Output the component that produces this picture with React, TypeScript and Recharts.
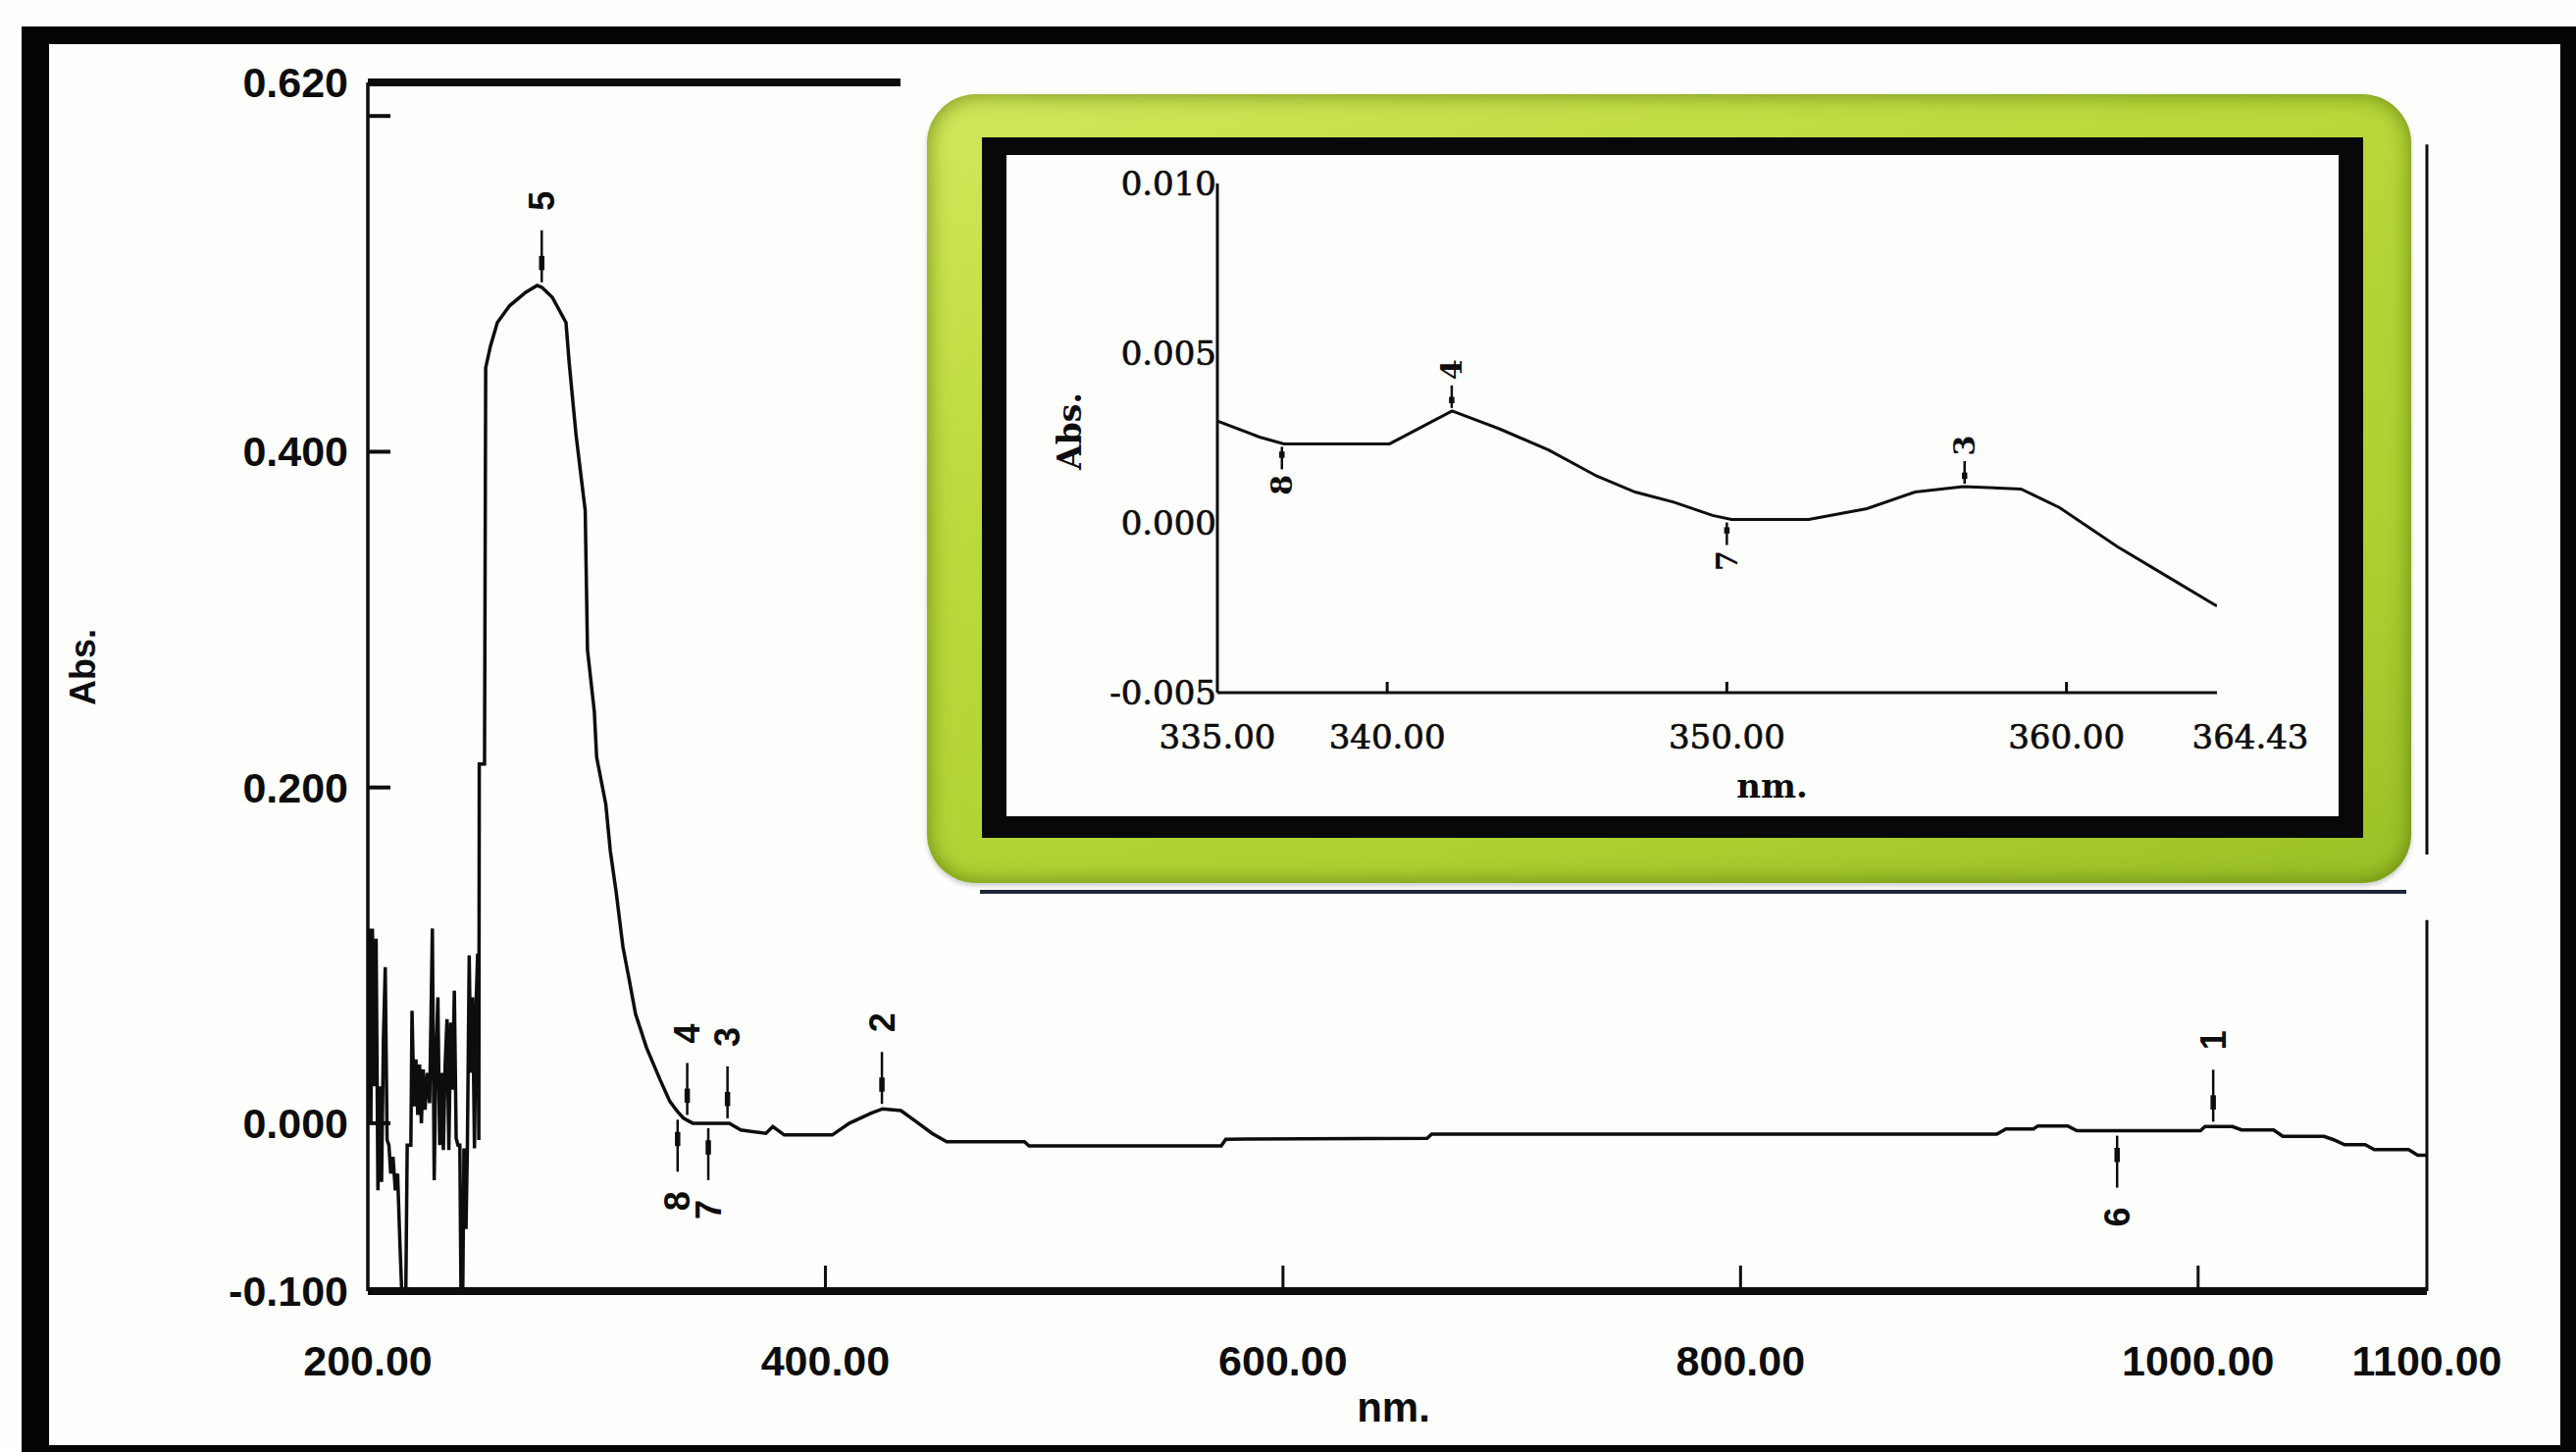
import React from 'react';
import { ComposedChart, Line, Scatter, XAxis, YAxis, ReferenceLine, Label } from 'recharts';

// ---- main spectrum, 200-1100 nm ----
const mainNm = [
  200.0, 200.6, 201.3, 202.0, 202.8, 203.6, 204.4, 205.2, 206.0, 206.8, 207.6, 208.4, 209.2, 210.0,
  211.0, 212.0, 213.0, 214.0, 214.8, 216.6, 217.2, 218.8, 219.3, 220.2, 221.0, 221.8, 222.6, 223.4,
  224.2, 225.0, 226.0, 227.0, 228.2, 229.0, 229.8, 230.6, 231.4, 232.2, 233.0, 233.8, 234.6, 235.4,
  236.2, 237.0, 237.8, 238.6, 239.4, 240.2, 240.7, 241.5, 242.0, 242.9, 243.5, 244.3, 245.0, 245.8,
  246.6, 247.4, 248.0, 248.5, 248.7, 251.0, 251.5, 253.6, 256.6, 262.0, 269.0, 274.0, 276.0, 280.6,
  286.6, 288.0, 291.0, 295.0, 296.0, 299.0, 300.0, 304.0, 306.0, 308.5, 311.5, 314.3, 317.0, 321.8,
  327.7, 332.0, 335.3, 338.0, 342.0, 358.0, 363.0, 374.0, 377.0, 382.0, 403.0, 410.5, 420.0, 425.0,
  433.0, 439.0, 446.6, 453.0, 487.0, 489.0, 573.0, 575.0, 663.0, 665.0, 912.0, 916.0, 928.0, 930.0,
  943.0, 947.0, 1001.0, 1003.0, 1015.0, 1019.0, 1033.0, 1037.0, 1055.0, 1059.0, 1064.0, 1073.0,
  1077.0, 1092.0, 1096.0, 1100.0,
];
const mainAbs = [
  0.02, 0.116, 0.0, 0.116, 0.022, 0.11, -0.04, 0.022, -0.035, 0.05, 0.093, -0.01, -0.013, -0.03,
  -0.02, -0.04, -0.03, -0.071, -0.1, -0.1, -0.013, -0.013, 0.067, 0.01, 0.038, 0.005, 0.035, 0.0,
  0.032, 0.008, 0.03, 0.012, 0.116, -0.034, 0.04, 0.075, -0.013, 0.03, -0.016, 0.035, 0.062, -0.016,
  0.06, 0.02, 0.079, -0.009, -0.013, -0.013, -0.1, -0.1, -0.015, -0.063, -0.015, 0.1, 0.03, 0.075,
  -0.015, 0.075, 0.101, -0.01, 0.214, 0.214, 0.45, 0.463, 0.477, 0.487, 0.495, 0.499, 0.498, 0.492,
  0.477, 0.453, 0.41, 0.365, 0.282, 0.245, 0.218, 0.19, 0.162, 0.138, 0.105, 0.085, 0.065, 0.045,
  0.026, 0.013, 0.007, 0.003, 0.0, 0.0, -0.004, -0.006, -0.002, -0.007, -0.007, 0.0, 0.006, 0.0086,
  0.0075, 0.0016, -0.006, -0.011, -0.011, -0.0135, -0.0135, -0.0095, -0.009, -0.0065, -0.0065, -0.0034, -0.0034, -0.0016,
  -0.0016, -0.0045, -0.0045, -0.002, -0.002, -0.004, -0.004, -0.0078, -0.0078, -0.0097, -0.0128, -0.0128,
  -0.0157, -0.0157, -0.019, -0.019,
];
const mainXTicks = [200, 400, 600, 800, 1000, 1100];
const mainYTicks = [-0.1, 0, 0.2, 0.4, 0.6, 0.62];

// peak picks on the main trace
const mainPeakNm = [276, 339.6, 357.2, 424.7, 1006.6, 335.4, 348.8, 964.6];
const mainPeakAbs = [0.498, 0.002, 0.0, 0.0086, -0.002, 0.005, 0.0, -0.0045];
const mainPeakLabels = ['5', '4', '3', '2', '1', '8', '7', '6'];
const mainPeakDir = ['up', 'up', 'up', 'up', 'up', 'down', 'down', 'down'];

// ---- inset, 335-364.43 nm ----
const insetNm = [
  335.0, 336.24, 336.96, 340.07, 341.91, 343.33, 344.75, 346.17, 347.3, 348.44, 349.58, 350.14,
  352.41, 354.12, 355.54, 356.96, 358.66, 359.8, 361.5, 362.92, 364.34, 364.43,
];
const insetAbs = [
  0.003, 0.00253, 0.00233, 0.00233, 0.0033, 0.00276, 0.00215, 0.00138, 0.00091, 0.00061, 0.00022, 0.0001,
  0.0001, 0.00042, 0.00091, 0.00107, 0.001, 0.00045, -0.0007, -0.00155, -0.0024, -0.00245,
];
const insetXTicks = [335, 340, 350, 360, 364.43];
const insetYTicks = [-0.005, 0, 0.005, 0.01];
const insetPeakNm = [336.9, 341.9, 350.0, 357.0];
const insetPeakAbs = [0.00233, 0.0033, 0.0001, 0.00107];
const insetPeakLabels = ['8', '4', '7', '3'];
const insetPeakDir = ['down', 'up', 'down', 'up'];

const mainRows = mainNm.map((nm, i) => ({ nm, abs: mainAbs[i] }));
const mainPeaks = mainPeakNm.map((nm, i) => ({ nm, abs: mainPeakAbs[i], label: mainPeakLabels[i], dir: mainPeakDir[i] }));
const insetRows = insetNm.map((nm, i) => ({ nm, abs: insetAbs[i] }));
const insetPeaks = insetPeakNm.map((nm, i) => ({ nm, abs: insetPeakAbs[i], label: insetPeakLabels[i], dir: insetPeakDir[i] }));

const SANS = '"Liberation Sans", Arial, sans-serif';
const SERIF = '"DejaVu Serif", serif';
const INK = '#0d0d0d';

const near = (a: number, b: number) => Math.abs(a - b) < 1e-9;

function peakShape(o: { gap: number; len: number; txt: number; font: number; family: string; weight: string; sw: number }) {
  return (props: any) => {
    const { cx, cy, payload } = props;
    if (cx == null || cy == null) return <g />;
    const s = payload.dir === 'up' ? -1 : 1;
    const ty = cy + s * o.txt;
    const a0 = cy + s * o.len * 0.3;
    const a1 = cy + s * o.len * 0.55;
    return (
      <g>
        <line x1={cx} x2={cx} y1={cy + s * o.gap} y2={cy + s * o.len} stroke={INK} strokeWidth={o.sw} />
        <line x1={cx} x2={cx} y1={a0} y2={a1} stroke={INK} strokeWidth={o.sw * 2.2} />
        <text
          x={cx}
          y={ty}
          transform={`rotate(-90 ${cx} ${ty})`}
          textAnchor="middle"
          dominantBaseline="central"
          fontFamily={o.family}
          fontWeight={o.weight}
          fontSize={o.font}
          fill={INK}
        >
          {payload.label}
        </text>
      </g>
    );
  };
}

const MainXTick = (props: any) => {
  const { x, y, payload } = props;
  const v = payload.value;
  const mark = v > 200 && v < 1100;
  return (
    <g>
      {mark && <line x1={x} x2={x} y1={y - 3} y2={y - 26} stroke={INK} strokeWidth={3} />}
      <text x={x} y={y + 71} textAnchor="middle" dominantBaseline="central" fontFamily={SANS} fontWeight="bold" fontSize={43} fill={INK}>
        {v.toFixed(2)}
      </text>
    </g>
  );
};

const MainTopTick = (props: any) => {
  const { x, y } = props;
  return <line x1={x} x2={x} y1={y} y2={y + 26} stroke={INK} strokeWidth={3} />;
};

const MainYTick = (props: any) => {
  const { x, y, payload } = props;
  const v = payload.value;
  const mark = v > -0.09 && v < 0.61;
  const label = !near(v, 0.6);
  return (
    <g>
      {mark && <line x1={x} x2={x + 23} y1={y} y2={y} stroke={INK} strokeWidth={4} />}
      {label && (
        <text x={x - 20} y={y} textAnchor="end" dominantBaseline="central" fontFamily={SANS} fontWeight="bold" fontSize={43} fill={INK}>
          {v.toFixed(3)}
        </text>
      )}
    </g>
  );
};

const InsetXTick = (props: any) => {
  const { x, y, payload } = props;
  const v = payload.value;
  const mark = v > 335 && v < 364;
  const dx = near(v, 364.43) ? 34 : 0;
  return (
    <g>
      {mark && <line x1={x} x2={x} y1={y} y2={y - 11} stroke={INK} strokeWidth={3} />}
      <text x={x + dx} y={y + 45} textAnchor="middle" dominantBaseline="central" fontFamily={SERIF} fontSize={34} fill={INK} stroke={INK} strokeWidth={0.7}>
        {v.toFixed(2)}
      </text>
    </g>
  );
};

const InsetTopTick = (props: any) => {
  const { x, y } = props;
  return <line x1={x} x2={x} y1={y} y2={y + 11} stroke={INK} strokeWidth={3} />;
};

const InsetYTick = (props: any) => {
  const { x, y, payload } = props;
  return (
    <text x={x - 1} y={y} textAnchor="end" dominantBaseline="central" fontFamily={SERIF} fontSize={34} fill={INK} stroke={INK} strokeWidth={0.7}>
      {payload.value.toFixed(3)}
    </text>
  );
};

const InsetRightTick = (props: any) => {
  const { x, y } = props;
  return <line x1={x} x2={x - 11} y1={y} y2={y} stroke={INK} strokeWidth={3} />;
};

const axisText = (text: string, dx: number, dy: number, rotate: boolean, family: string, size: number, weight: string) =>
  (props: any) => {
    const vb = props.viewBox || {};
    const x = (rotate ? vb.x : vb.x + vb.width / 2) + dx;
    const y = (rotate ? vb.y + vb.height / 2 : vb.y) + dy;
    return (
      <text
        x={x}
        y={y}
        transform={rotate ? `rotate(-90 ${x} ${y})` : undefined}
        textAnchor="middle"
        dominantBaseline="central"
        fontFamily={family}
        fontSize={size}
        fontWeight={weight}
        fill={INK}
      >
        {text}
      </text>
    );
  };

export default function App() {
  return (
    <div style={{ position: 'absolute', left: 0, top: 0, width: 2626, height: 1480, background: '#fefefd', overflow: 'hidden' }}>
      <div style={{ position: 'absolute', left: 0, top: 0 }}>
        <ComposedChart width={2626} height={1480} margin={{ top: 84, right: 152, bottom: 0, left: 0 }}>
          <XAxis
            dataKey="nm"
            type="number"
            domain={[200, 1100]}
            allowDataOverflow
            ticks={mainXTicks}
            interval={0}
            height={164}
            tickSize={0}
            tickMargin={0}
            tickLine={false}
            tick={<MainXTick />}
            axisLine={{ stroke: INK, strokeWidth: 8 }}
          >
            <Label content={axisText('nm.', -4, 118, false, SANS, 42, 'bold')} />
          </XAxis>
          <XAxis
            xAxisId="top"
            orientation="top"
            dataKey="nm"
            type="number"
            domain={[200, 1100]}
            allowDataOverflow
            ticks={[400]}
            height={0}
            tickSize={0}
            tickMargin={0}
            tickLine={false}
            axisLine={false}
            tick={<MainTopTick />}
          />
          <YAxis
            type="number"
            domain={[-0.1, 0.62]}
            allowDataOverflow
            ticks={mainYTicks}
            interval={0}
            width={375}
            tickSize={0}
            tickMargin={0}
            tickLine={false}
            tick={<MainYTick />}
            axisLine={{ stroke: INK, strokeWidth: 3.5 }}
          >
            <Label content={axisText('Abs.', 84, -20, true, SANS, 36, 'bold')} />
          </YAxis>
          <ReferenceLine segment={[{ x: 200, y: 0.62 }, { x: 432.8, y: 0.62 }]} stroke={INK} strokeWidth={8} />
          <ReferenceLine segment={[{ x: 1100, y: -0.1 }, { x: 1100, y: 0.121 }]} stroke={INK} strokeWidth={3} />
          <ReferenceLine segment={[{ x: 1100, y: 0.16 }, { x: 1100, y: 0.583 }]} stroke={INK} strokeWidth={3} />
          <Line
            data={mainRows}
            dataKey="abs"
            type="linear"
            stroke={INK}
            strokeWidth={3.5}
            dot={false}
            activeDot={false}
            isAnimationActive={false}
          />
          <Scatter
            data={mainPeaks}
            dataKey="abs"
            isAnimationActive={false}
            shape={peakShape({ gap: 5, len: 58, txt: 88, font: 36, family: SANS, weight: 'bold', sw: 2.5 })}
          />
        </ComposedChart>
      </div>

      {/* inset picture: green rounded mount, black frame */}
      <div
        style={{
          position: 'absolute',
          left: 945,
          top: 96,
          width: 1513,
          height: 804,
          borderRadius: 50,
          background: 'linear-gradient(160deg, #d2e85a 0%, #bad93c 35%, #afd132 70%, #9cc028 100%)',
          boxShadow: 'inset 0 0 22px rgba(70,100,0,0.7), 0 3px 5px rgba(0,0,0,0.2)',
        }}
      />
      <div
        style={{
          position: 'absolute',
          left: 1001,
          top: 140,
          width: 1408,
          height: 714,
          boxSizing: 'border-box',
          borderStyle: 'solid',
          borderColor: '#080808',
          borderWidth: '18px 25px 22px 25px',
          background: '#fefefd',
        }}
      />
      <div style={{ position: 'absolute', left: 999, top: 907, width: 1454, height: 4, background: '#1c2636' }} />

      <div style={{ position: 'absolute', left: 1026, top: 158 }}>
        <ComposedChart width={1358} height={674} margin={{ top: 29, right: 124, bottom: 0, left: 0 }}>
          <XAxis
            dataKey="nm"
            type="number"
            domain={[335, 364.43]}
            allowDataOverflow
            ticks={insetXTicks}
            interval={0}
            height={126}
            tickSize={0}
            tickMargin={0}
            tickLine={false}
            tick={<InsetXTick />}
            axisLine={{ stroke: INK, strokeWidth: 3 }}
          >
            <Label content={axisText('nm.', 56, 95, false, SERIF, 34, 'bold')} />
          </XAxis>
          <XAxis
            xAxisId="top"
            orientation="top"
            dataKey="nm"
            type="number"
            domain={[335, 364.43]}
            allowDataOverflow
            ticks={[340, 350, 360]}
            height={0}
            tickSize={0}
            tickMargin={0}
            tickLine={false}
            tick={<InsetTopTick />}
            axisLine={{ stroke: INK, strokeWidth: 3 }}
          />
          <YAxis
            type="number"
            domain={[-0.005, 0.01]}
            allowDataOverflow
            ticks={insetYTicks}
            interval={0}
            width={215}
            tickSize={0}
            tickMargin={0}
            tickLine={false}
            tick={<InsetYTick />}
            axisLine={{ stroke: INK, strokeWidth: 3 }}
          >
            <Label content={axisText('Abs.', 64, -7, true, SERIF, 33, 'bold')} />
          </YAxis>
          <YAxis
            yAxisId="right"
            orientation="right"
            type="number"
            domain={[-0.005, 0.01]}
            allowDataOverflow
            ticks={[0, 0.005]}
            width={0}
            tickSize={0}
            tickMargin={0}
            tickLine={false}
            tick={<InsetRightTick />}
            axisLine={{ stroke: INK, strokeWidth: 3 }}
          />
          <Line
            data={insetRows}
            dataKey="abs"
            type="linear"
            stroke={INK}
            strokeWidth={3}
            dot={false}
            activeDot={false}
            isAnimationActive={false}
          />
          <Scatter
            data={insetPeaks}
            dataKey="abs"
            isAnimationActive={false}
            shape={peakShape({ gap: 3, len: 26, txt: 42, font: 30, family: SERIF, weight: 'bold', sw: 2.5 })}
          />
        </ComposedChart>
      </div>

      {/* outer black frame */}
      <div
        style={{
          position: 'absolute',
          left: 22,
          top: 27,
          width: 2604,
          height: 1453,
          boxSizing: 'border-box',
          borderStyle: 'solid',
          borderColor: '#050505',
          borderWidth: '18px 16px 7px 28px',
          pointerEvents: 'none',
        }}
      />
    </div>
  );
}
